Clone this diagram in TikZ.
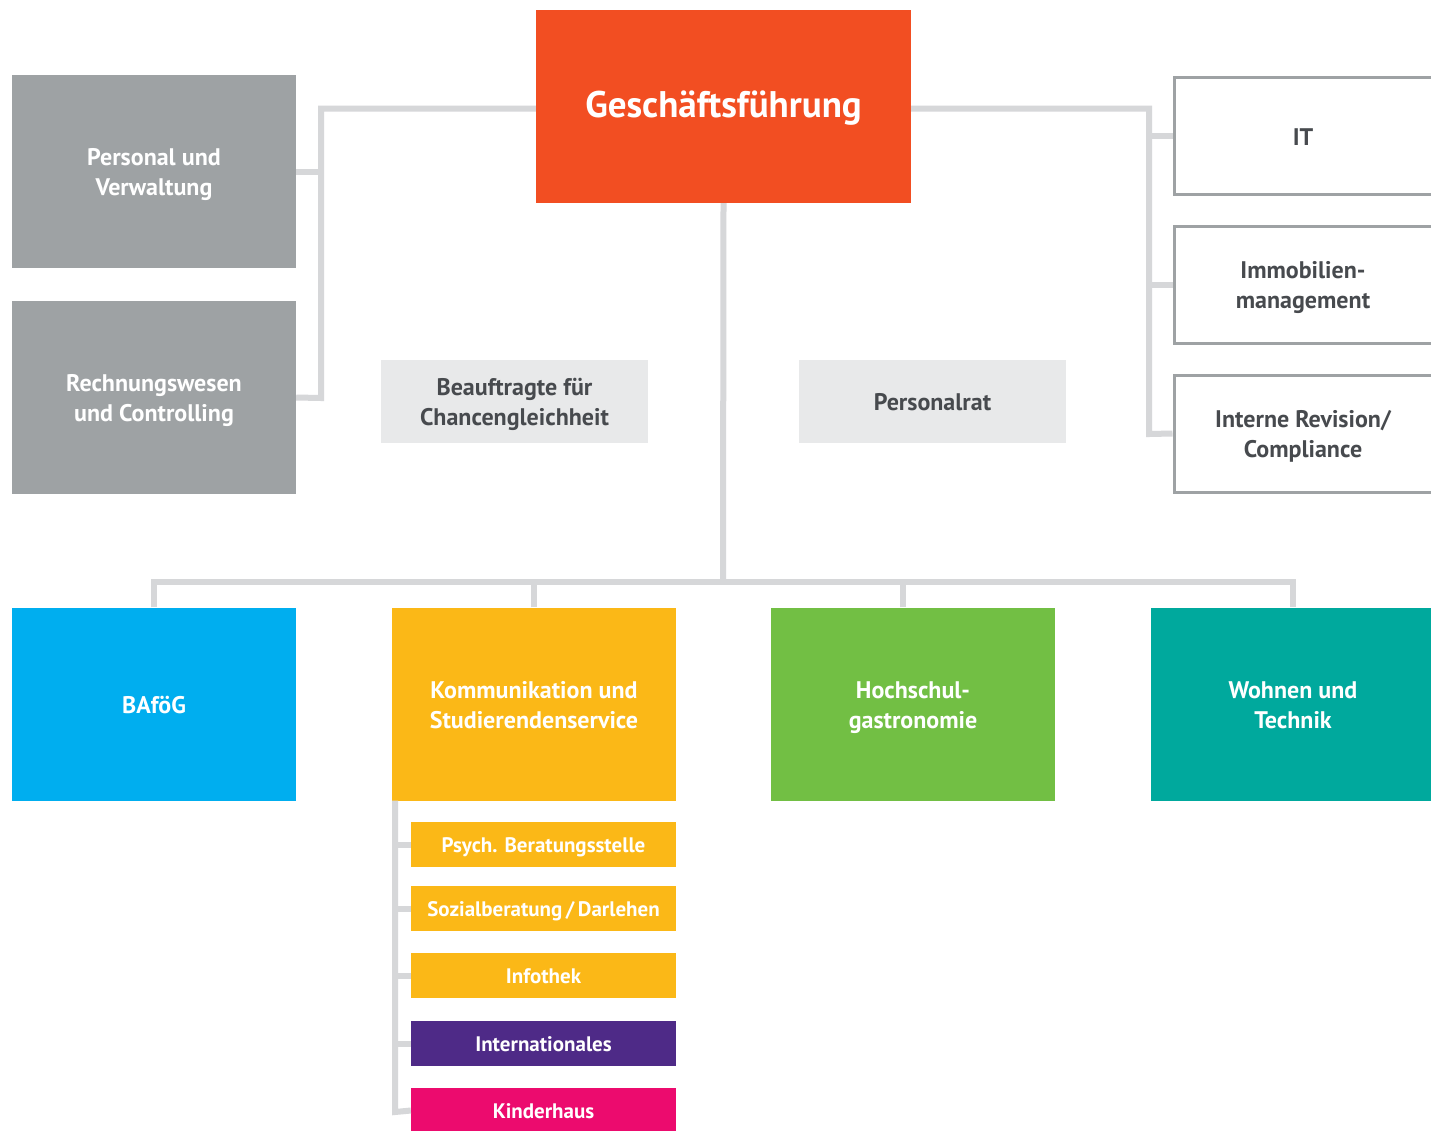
\documentclass[tikz,border=0pt]{standalone}
\usepackage{fontspec}
\setmainfont{PT Sans}
\definecolor{cOrange}{HTML}{F24E22}
\definecolor{cGray}{HTML}{9EA2A4}
\definecolor{cLight}{HTML}{E8E9EA}
\definecolor{cText}{HTML}{474A4E}
\definecolor{cBlue}{HTML}{00AEEF}
\definecolor{cYellow}{HTML}{FBB817}
\definecolor{cGreen}{HTML}{72BF44}
\definecolor{cTeal}{HTML}{00A99D}
\definecolor{cPurple}{HTML}{4E2A87}
\definecolor{cMagenta}{HTML}{EC0B6E}
\definecolor{cLine}{HTML}{D6D7D9}
\newcommand{\lowtxt}[1]{\raisebox{-3bp}[\height][\depth]{\begin{tabular}{@{}c@{}}#1\end{tabular}}}
\begin{document}
\begin{tikzpicture}[x=1bp,y=-1bp,
  box/.style={inner sep=0pt, align=center, text=white,
    font=\fontsize{24bp}{30bp}\selectfont\bfseries},
  bigbox/.style={box, minimum width=284bp, minimum height=193bp},
  subbox/.style={box, minimum width=265bp, minimum height=45bp, font=\fontsize{21bp}{24bp}\selectfont\bfseries},
  outbox/.style={box, draw=cGray, line width=3bp, text=cText, minimum width=258bp, minimum height=117bp},
  lightbox/.style={box, fill=cLight, text=cText, minimum width=267bp, minimum height=83bp},
  conn/.style={draw=cLine, line width=6bp}]
\clip (0,0) rectangle (1431,1130);
\fill[white] (0,0) rectangle (1431,1130);

\coordinate (lj) at (321,398);
\coordinate (rj) at (1149,434);
\coordinate (hub) at (723,582);
\coordinate (sj) at (395,1112);

% nodes
\node[box, fill=cOrange, minimum width=375bp, minimum height=193bp,
      font=\fontsize{37bp}{40bp}\selectfont\bfseries] (gf) at (723.5,106.5) {\lowtxt{Geschäftsführung}};
\node[bigbox, fill=cGray] (pv) at (154,171.5) {\lowtxt{Personal und\\Verwaltung}};
\node[bigbox, fill=cGray] (rw) at (154,397.5) {\lowtxt{Rechnungswesen\\und Controlling}};
\node[lightbox] (bc) at (514.5,401.5) {\lowtxt{Beauftragte für\\Chancengleichheit}};
\node[lightbox] (pr) at (932.5,401.5) {\lowtxt{Personalrat}};
\node[outbox] (it) at (1303,136) {\lowtxt{IT}};
\node[outbox] (im) at (1303,284.5) {\lowtxt{Immobilien-\\management}};
\node[outbox] (ir) at (1303,433.5) {\lowtxt{Interne Revision/\\Compliance}};

\node[bigbox, fill=cBlue] (ba) at (154,704) {\lowtxt{BAföG}};
\node[bigbox, fill=cYellow] (ko) at (534,704) {\lowtxt{Kommunikation und\\Studierendenservice}};
\node[bigbox, fill=cGreen] (hs) at (913,704) {\lowtxt{Hochschul-\\gastronomie}};
\node[bigbox, fill=cTeal] (wo) at (1293,704) {\lowtxt{Wohnen und\\Technik}};

\node[subbox, fill=cYellow] (ps) at (543.5,844.5) {\lowtxt{Psych. Beratungsstelle}};
\node[subbox, fill=cYellow] (so) at (543.5,908.5) {\lowtxt{Sozialberatung\,/\,Darlehen}};
\node[subbox, fill=cYellow] (in) at (543.5,975.5) {\lowtxt{Infothek}};
\node[subbox, fill=cPurple] (ia) at (543.5,1043.5) {\lowtxt{Internationales}};
\node[subbox, fill=cMagenta] (kh) at (543.5,1110.5) {\lowtxt{Kinderhaus}};

% left
\draw[conn] ([yshift=-2bp]gf.west) -| (lj) -- (rw.east);
\draw[conn] (pv.east) -- (pv.east -| lj);
% right
\draw[conn] ([yshift=-2bp]gf.east) -| (rj) -- (ir.west);
\draw[conn] (it.west) -- (it.west -| rj);
\draw[conn] (im.west) -- (im.west -| rj);
% down
\draw[conn] (gf.south) -- (hub);
\draw[conn] (ba.north) |- (hub);
\draw[conn] (hub) -| (wo.north);
\draw[conn] (ko.north) -- (ko.north |- hub);
\draw[conn] ([xshift=-10bp]hs.north) -- ([xshift=-10bp]hs.north |- hub);
% sub
\draw[conn] (ko.south -| sj) -- (sj) -- (kh.west);
\draw[conn] (ps.west) -- (ps.west -| sj);
\draw[conn] (so.west) -- (so.west -| sj);
\draw[conn] (in.west) -- (in.west -| sj);
\draw[conn] (ia.west) -- (ia.west -| sj);
\end{tikzpicture}
\end{document}
